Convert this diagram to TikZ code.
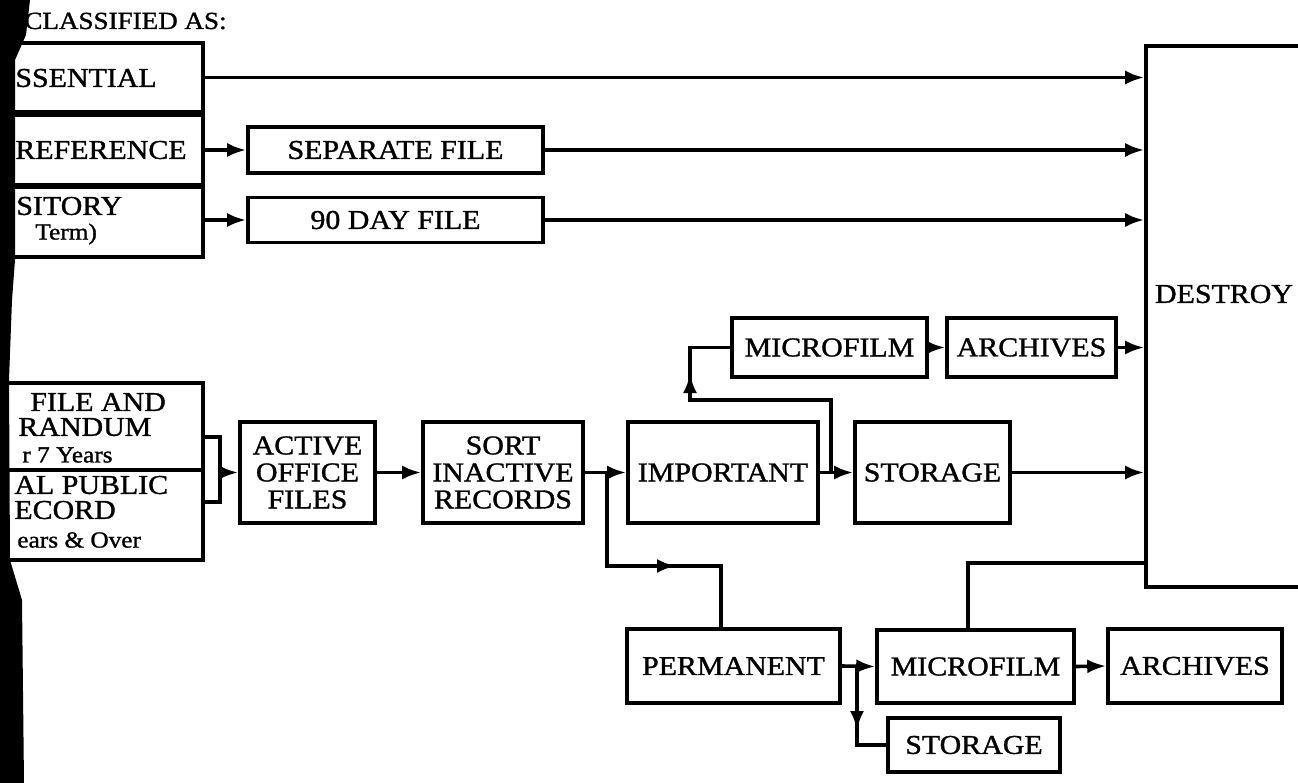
\documentclass[tikz,border=0pt]{standalone}
\usepackage{fontspec}
\setmainfont{Liberation Serif}[FakeStretch=1.1,FakeBold=1.2]
\usetikzlibrary{arrows.meta}

\begin{document}
\begin{tikzpicture}[x=0.5pt,y=-0.5pt,
  blk/.style={draw,line width=1.8pt,inner sep=0pt,align=center,font=\fontsize{13.6}{13.5}\selectfont},
  lbl/.style={anchor=west,inner sep=0pt,font=\fontsize{13.6}{13.5}\selectfont},
  sml/.style={anchor=west,inner sep=0pt,font=\fontsize{11.5}{12}\selectfont},
  con/.style={line width=1.8pt},
  arr/.style={line width=1.8pt,-{Latex[length=9.5pt,width=7pt]}}]
\useasboundingbox (0,0) rectangle (1298,783);
\clip (0,0) rectangle (1298,783);

% classes
\node[lbl,font=\fontsize{12.3}{12}\selectfont] (hdr) at (24,21) {CLASSIFIED AS:};
\node[blk,minimum width=106.5pt,minimum height=34.5pt] (ess) at (96.5,77.5) {};
\node[blk,minimum width=106.5pt,minimum height=34.5pt] (ref) at (96.5,150) {};
\node[blk,minimum width=106.5pt,minimum height=35pt] (trn) at (96.5,222) {};
\node[blk,minimum width=106.5pt,minimum height=43.5pt] (fa) at (96.5,426.5) {};
\node[blk,minimum width=106.5pt,minimum height=45pt] (pr) at (96.5,515) {};
\node[lbl] (esst) at (15,78) {SSENTIAL};
\node[lbl] (reft) at (15,150) {REFERENCE};
\node[lbl] (trnt) at (16,206) {SITORY};
\node[sml] (trns) at (35,234) {Term)};
\node[lbl] (fat) at (30,402) {FILE AND};
\node[lbl] (fam) at (18,427) {RANDUM};
\node[sml] (fas) at (22,455) {r 7 Years};
\node[lbl] (prt) at (14,485) {AL PUBLIC};
\node[lbl] (prm) at (14,510) {ECORD};
\node[sml] (prs) at (17,540) {ears \& Over};

% files
\node[blk,minimum width=147.5pt,minimum height=23pt] (sep) at (395.5,150) {SEPARATE FILE};
\node[blk,minimum width=147.5pt,minimum height=22.5pt] (day) at (395.5,220) {90 DAY FILE};
\node[blk,minimum width=67.5pt,minimum height=50.5pt] (act) at (307.5,472.5) {ACTIVE\\OFFICE\\FILES};
\node[blk,minimum width=80pt,minimum height=50.5pt] (srt) at (503,472.5) {SORT\\INACTIVE\\RECORDS};
\node[blk,minimum width=95pt,minimum height=50.5pt] (imp) at (723,472.5) {IMPORTANT};
\node[blk,minimum width=77.5pt,minimum height=50.5pt] (stU) at (932.5,472.5) {STORAGE};
\node[blk,minimum width=97.5pt,minimum height=29.5pt] (mfU) at (829.5,347.5) {MICROFILM};
\node[blk,minimum width=84.5pt,minimum height=29.5pt] (arU) at (1031.5,347.5) {ARCHIVES};
\node[blk,minimum width=106.5pt,minimum height=37pt] (per) at (733.5,666) {PERMANENT};
\node[blk,minimum width=98.5pt,minimum height=36.5pt] (mfL) at (975.5,666.5) {MICROFILM};
\node[blk,minimum width=87pt,minimum height=37pt] (arL) at (1195,666) {ARCHIVES};
\node[blk,minimum width=86pt,minimum height=27pt] (stL) at (974,745) {STORAGE};

% destroy
\node[blk,minimum width=97pt,minimum height=270.5pt] (des) at (1243,316.5) {};
\node[lbl,anchor=center] (dest) at (1224,294) {DESTROY};

% top rows
\draw[arr] (ess.east) -- (ess.east -| des.west);
\foreach \f/\c in {sep/ref,day/trn}{
  \draw[arr] (\f.west -| \c.east) -- (\f.west);
  \draw[arr] (\f.east) -- (\f.east -| des.west);
}

% bracket
\coordinate (bt) at (220,437);
\coordinate (bb) at (220,502);
\draw[con] (bt -| fa.east) -- (bt) -- (bb) -- (bb -| pr.east);
\draw[arr] (bt |- act.west) -- (act.west);

% middle row
\draw[arr] (act.east) -- (srt.west);
\draw[arr] (srt.east) -- (imp.west);
\draw[arr] (imp.east) -- (stU.west);
\draw[arr] (stU.east) -- (stU.east -| des.west);
\draw[arr] (mfU.east) -- (arU.west);
\draw[arr] (arU.east) -- (arU.east -| des.west);

\coordinate (b2) at (831,472.5);
\coordinate (k2) at (690,400);
\coordinate (a2) at (690,374);
\draw[con] (b2) |- (k2) |- (mfU.west);
\draw[arr] (b2) |- (k2) -- (a2);

% permanent
\coordinate (b1) at (607,472.5);
\coordinate (a1) at (676,566);
\coordinate (k1) at (721,566);
\draw[con] (b1) |- (k1) -- (k1 |- per.north);
\draw[arr] (b1) |- (a1);

\draw[arr] (per.east) -- (mfL.west);
\draw[arr] (mfL.east) -- (arL.west);
\coordinate (b3) at (857,666);
\coordinate (a3) at (857,730);
\draw[con] (b3) |- (stL.west);
\draw[arr] (b3) -- (a3);
\coordinate (k4) at (968,563);
\draw[con] (k4 |- mfL.north) -- (k4) -- (k4 -| des.west);

% binding edge
\fill (0,0) -- (30,0) -- (26,35) -- (15,60) -- (15,260) -- (12,300) -- (9,380) -- (10,560) -- (22,600) -- (24,783) -- (0,783) -- cycle;
\end{tikzpicture}
\end{document}
